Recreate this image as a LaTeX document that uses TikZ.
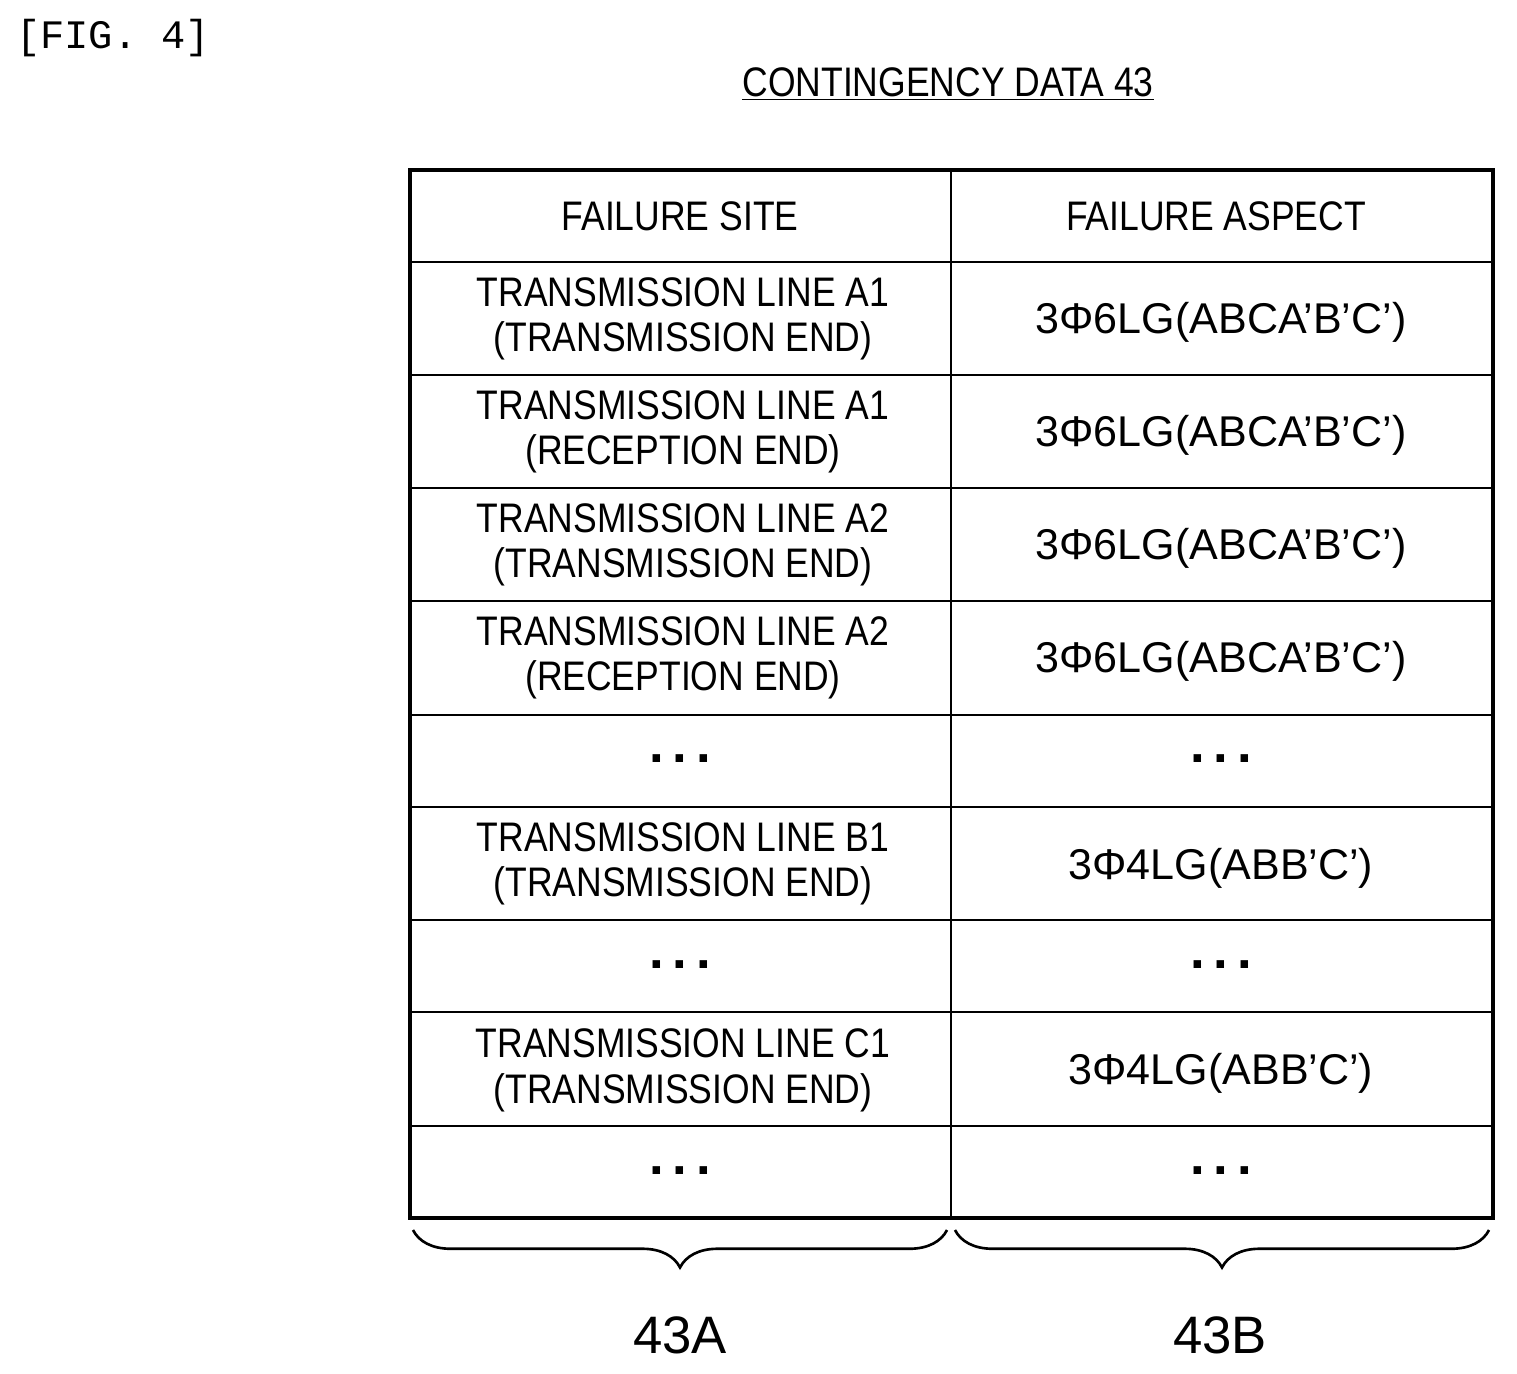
\documentclass[tikz,border=0pt]{standalone}
\usepackage{fontspec}
\setmainfont{Liberation Sans}[FakeStretch=0.86]
\newfontfamily\widefont{Liberation Sans}
\setmonofont{Liberation Mono}
\usetikzlibrary{decorations.pathreplacing}
\tikzset{
  celltext/.style={align=center,font=\fontsize{23.5}{26}\selectfont},
  aspecttext/.style={align=center,font=\widefont\fontsize{24.5}{26}\selectfont},
  dotstext/.style={font=\widefont\bfseries\fontsize{30}{30}\selectfont},
  bigbrace/.style={decorate,decoration={brace,mirror,amplitude=0.75cm},line width=1.5pt}
}
\begin{document}
\begin{tikzpicture}[x=0.02cm,y=-0.02cm]
  \useasboundingbox (0,0) rectangle (1517,1373);
  \node[anchor=west,font=\ttfamily\fontsize{23}{24}\selectfont] (fig) at (10,38) {[FIG. 4]};
  \node[font=\fontsize{23.5}{24}\selectfont] (title) at (948,84) {\underline{CONTINGENCY DATA 43}};
  % table
  \draw[line width=2.2pt] (410,170) rectangle (1493,1218);
  \draw[line width=1.2pt] (951,170) -- (951,1218);
  \foreach \y in {262,375,488,601,715,807,920,1012,1126}
    \draw[line width=1.2pt] (410,\y) -- (1493,\y);
  \node[celltext] (h1) at (680,216) {FAILURE SITE};
  \node[celltext] (h2) at (1216,216) {FAILURE ASPECT};
  \node[celltext] (s1) at (683,319) {TRANSMISSION LINE A1\\(TRANSMISSION END)};
  \node[celltext] (s2) at (683,432) {TRANSMISSION LINE A1\\(RECEPTION END)};
  \node[celltext] (s3) at (683,545) {TRANSMISSION LINE A2\\(TRANSMISSION END)};
  \node[celltext] (s4) at (683,658) {TRANSMISSION LINE A2\\(RECEPTION END)};
  \node[celltext] (s6) at (683,864) {TRANSMISSION LINE B1\\(TRANSMISSION END)};
  \node[celltext] (s8) at (683,1070) {TRANSMISSION LINE C1\\(TRANSMISSION END)};
  \foreach \y/\t in {322/3Φ6LG(ABCA’B’C’),435/3Φ6LG(ABCA’B’C’),548/3Φ6LG(ABCA’B’C’),661/3Φ6LG(ABCA’B’C’),868/3Φ4LG(ABB’C’),1073/3Φ4LG(ABB’C’)}
    \node[aspecttext] at (1221,\y) {\t};
  \foreach \y in {759,965,1171}{
    \node[dotstext] at (680,\y) {.\,.\,.};
    \node[dotstext] at (1221,\y) {.\,.\,.};
  }
  % braces
  \draw[bigbrace] (413,1230) -- (947,1230);
  \draw[bigbrace] (955,1230) -- (1489,1230);
  \node[font=\widefont\fontsize{30}{32}\selectfont] (la) at (680,1335) {43A};
  \node[font=\widefont\fontsize{30}{32}\selectfont] (lb) at (1220,1335) {43B};
\end{tikzpicture}
\end{document}
